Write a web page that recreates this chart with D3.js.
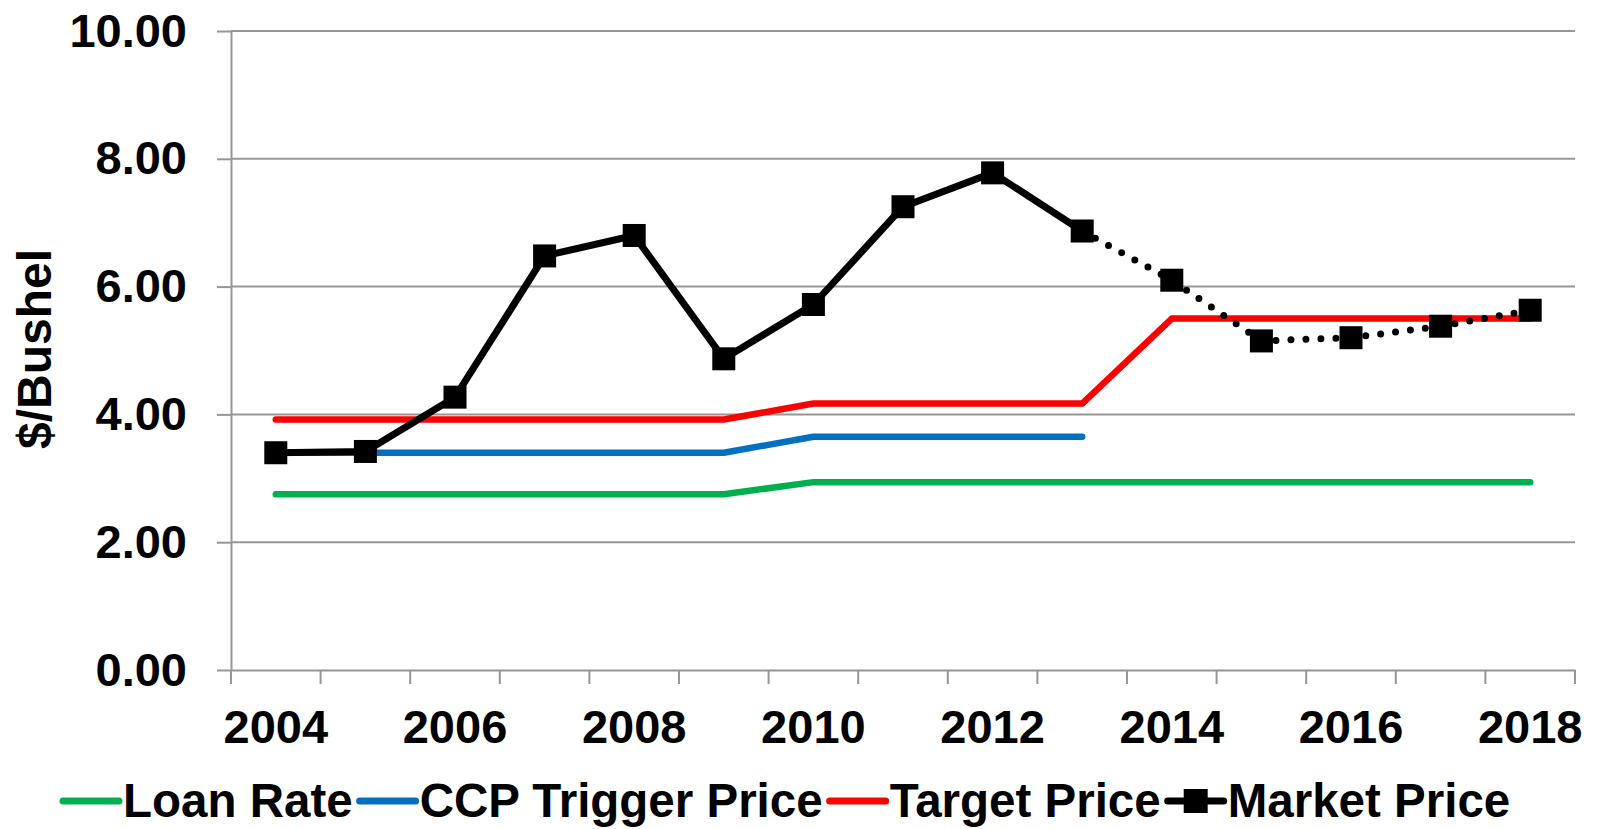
<!DOCTYPE html>
<html>
<head>
<meta charset="utf-8">
<script src="https://cdn.jsdelivr.net/npm/d3@7"></script>
<style>
  body { margin: 0; background: #fff; }
  svg { display: block; font-family: "Liberation Sans", Arial, sans-serif; font-weight: bold; }
</style>
</head>
<body>
<svg id="chart" width="1598" height="829"></svg>
<script>
// chart data
var years = [2004, 2005, 2006, 2007, 2008, 2009, 2010, 2011, 2012, 2013, 2014, 2015, 2016, 2017, 2018];
var yearLabels = [2004, 2006, 2008, 2010, 2012, 2014, 2016, 2018];
var yTicks = [0, 2, 4, 6, 8, 10];

var loanRate = [2.75, 2.75, 2.75, 2.75, 2.75, 2.75, 2.94, 2.94, 2.94, 2.94, 2.94, 2.94, 2.94, 2.94, 2.94];
var ccpTrigger = [3.40, 3.40, 3.40, 3.40, 3.40, 3.40, 3.65, 3.65, 3.65, 3.65, null, null, null, null, null];
var targetPrice = [3.92, 3.92, 3.92, 3.92, 3.92, 3.92, 4.17, 4.17, 4.17, 4.17, 5.50, 5.50, 5.50, 5.50, 5.50];
var marketPrice = [3.40, 3.42, 4.27, 6.48, 6.80, 4.87, 5.72, 7.25, 7.78, 6.87, 6.10, 5.15, 5.20, 5.38, 5.63];
var marketSolidEnd = 2013; // after this year the line is dotted

var seriesNames = ["Loan Rate", "CCP Trigger Price", "Target Price", "Market Price"];
var seriesColors = ["#00b050", "#0070c0", "#ff0000", "#000000"];

function drawChart() {
	var svg = d3.select("#chart");
	var left = 231, right = 1575, top = 31, bottom = 670;
	var gray = "#969696";

	var x = d3.scaleBand().domain(years).range([left, right]);
	var y = d3.scaleLinear().domain([0, 10]).range([bottom, top]);
	var cx = function (yr) { return x(yr) + x.bandwidth() / 2; };

	// gridlines
	svg.append("g").selectAll("line")
		.data(yTicks.filter(function (d) { return d > 0; }))
		.enter().append("line")
		.attr("x1", left).attr("x2", right)
		.attr("y1", function (d) { return y(d); })
		.attr("y2", function (d) { return y(d); })
		.attr("stroke", gray).attr("stroke-width", 2);

	// y axis
	var gy = svg.append("g").attr("transform", "translate(" + left + ",0)")
		.call(d3.axisLeft(y).tickValues(yTicks).tickSize(14).tickSizeOuter(0)
			.tickPadding(30).tickFormat(d3.format(".2f")));
	gy.selectAll("line").attr("stroke", gray).attr("stroke-width", 2);
	gy.select(".domain").attr("stroke", gray).attr("stroke-width", 2);
	gy.selectAll("text").attr("font-size", 47).attr("font-family", null)
		.attr("font-weight", "bold").attr("fill", "#000");

	// x axis
	var gx = svg.append("g").attr("transform", "translate(0," + bottom + ")")
		.call(d3.axisBottom(x).tickValues(yearLabels).tickSize(0).tickSizeOuter(0).tickPadding(40));
	gx.select(".domain").attr("stroke", gray).attr("stroke-width", 2);
	gx.selectAll("text").attr("font-size", 47).attr("font-family", null)
		.attr("font-weight", "bold").attr("fill", "#000");
	var bounds = years.map(function (d) { return x(d); }).concat([right]);
	gx.selectAll(".bound").data(bounds).enter().append("line")
		.attr("class", "bound")
		.attr("x1", function (d) { return d; }).attr("x2", function (d) { return d; })
		.attr("y1", 0).attr("y2", 14)
		.attr("stroke", gray).attr("stroke-width", 2);

	// y axis title
	svg.append("text")
		.attr("transform", "translate(51,349) rotate(-90)")
		.attr("text-anchor", "middle")
		.attr("font-size", 48)
		.text("$/Bushel");

	var line = d3.line()
		.defined(function (d) { return d.v != null; })
		.x(function (d) { return cx(d.year); })
		.y(function (d) { return y(d.v); });

	function pts(arr) {
		return years.map(function (yr, i) { return {year: yr, v: arr[i]}; });
	}

	var flatSeries = [loanRate, ccpTrigger, targetPrice];
	flatSeries.forEach(function (arr, i) {
		svg.append("path")
			.datum(pts(arr))
			.attr("d", line)
			.attr("fill", "none")
			.attr("stroke", seriesColors[i])
			.attr("stroke-width", 6.5)
			.attr("stroke-linecap", "round")
			.attr("stroke-linejoin", "round");
	});

	// market price: solid then dotted
	var mp = pts(marketPrice);
	svg.append("path")
		.datum(mp.filter(function (d) { return d.year <= marketSolidEnd; }))
		.attr("d", line)
		.attr("fill", "none").attr("stroke", "#000")
		.attr("stroke-width", 7).attr("stroke-linejoin", "round");
	svg.append("path")
		.datum(mp.filter(function (d) { return d.year >= marketSolidEnd; }))
		.attr("d", line)
		.attr("fill", "none").attr("stroke", "#000")
		.attr("stroke-width", 7).attr("stroke-linecap", "round")
		.attr("stroke-dasharray", "0 15");

	var sq = 23;
	svg.append("g").selectAll("rect").data(mp).enter().append("rect")
		.attr("x", function (d) { return cx(d.year) - sq / 2; })
		.attr("y", function (d) { return y(d.v) - sq / 2; })
		.attr("width", sq).attr("height", sq)
		.attr("fill", "#000");

	// legend
	var lx = 63, ly = 801;
	seriesNames.forEach(function (name, i) {
		var g = svg.append("g");
		g.append("line")
			.attr("x1", lx).attr("x2", lx + 56)
			.attr("y1", ly).attr("y2", ly)
			.attr("stroke", seriesColors[i]).attr("stroke-width", 7)
			.attr("stroke-linecap", "round");
		if (i == 3) {
			g.append("rect")
				.attr("x", lx + 28 - 12).attr("y", ly - 12)
				.attr("width", 24).attr("height", 24).attr("fill", "#000");
		}
		var t = g.append("text")
			.attr("x", lx + 60).attr("y", ly + 16)
			.attr("font-size", 47.5)
			.text(name);
		lx = lx + 60 + t.node().getComputedTextLength() + 7;
	});
}

drawChart();
</script>
</body>
</html>
